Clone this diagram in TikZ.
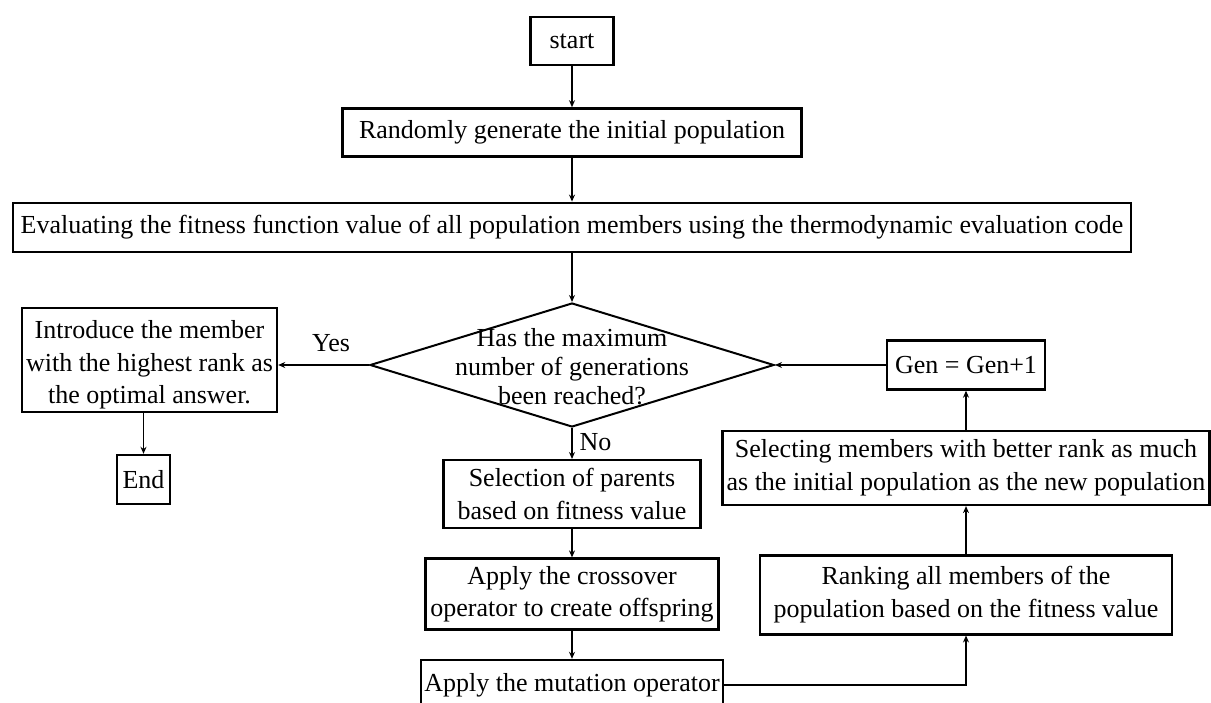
\documentclass[tikz,border=0pt]{standalone}
\usepackage{fontspec}
\setmainfont{Liberation Serif}
\usetikzlibrary{arrows.meta, positioning, shapes.geometric}

\begin{document}
\begin{tikzpicture}[x=1pt, y=1pt,
            box/.style={rectangle, draw, line width=2.4pt, align=center, inner sep=1pt, font=\fontsize{26}{32.5}\selectfont},
            decision/.style={diamond, draw, line width=2pt, minimum width=404pt, minimum height=124pt, inner sep=0pt, font=\fontsize{26}{29}\selectfont},
            flow/.style={draw, line width=1.5pt, -{Stealth[length=7pt, width=6pt]}},
            tag/.style={font=\fontsize{26}{30}\selectfont}
        ]
            \useasboundingbox (0,0) rectangle (1211,-703);
            \node[box, minimum width=83pt, minimum height=48pt] (start) at (572,-41) {start};
            \node[box, minimum width=459pt, minimum height=48pt, below=41pt of start] (init) {Randomly generate the initial population};
            \node[box, minimum width=1118pt, minimum height=49pt, below=44pt of init] (eval) {Evaluating the fitness function value of all population members using the thermodynamic evaluation code};
            \node[decision, below=49pt of eval] (decide) {\makebox[0pt]{\smash{\raisebox{-11pt}{\begin{tabular}{@{}c@{}}Has the maximum\\number of generations\\been reached?\end{tabular}}}}};
            \node[box, minimum width=255pt, minimum height=104pt] (intro) at (149.5,-360) {\raisebox{-5pt}[\height][\depth]{\begin{tabular}{@{}c@{}}Introduce the member\\with the highest rank as\\the optimal answer.\end{tabular}}};
            \node[box, minimum width=53pt, minimum height=49pt] (finish) at (143.5,-479.5) {End};
            \node[box, minimum width=257pt, minimum height=68pt, below=31pt of decide] (parents) {Selection of parents\\based on fitness value};
            \node[box, minimum width=293pt, minimum height=71pt, below=28pt of parents] (cross) {Apply the crossover\\operator to create offspring};
            \node[box, minimum width=302pt, minimum height=50pt, below=28pt of cross] (mutate) {Apply the mutation operator};
            \node[box, minimum width=158pt, minimum height=49pt] (gen) at (966,0 |- decide.east) {Gen = Gen+1};
            \node[box, minimum width=487pt, minimum height=74pt, below=39pt of gen] (select) {Selecting members with better rank as much\\as the initial population as the new population};
            \node[box, minimum width=412pt, minimum height=79pt, below=48pt of select] (rank) {Ranking all members of the\\population based on the fitness value};
            \node[tag] (yes) at (331,-343) {Yes};
            \node[tag, anchor=west] (no) at (576,-442) {No};

            \draw[flow] (start) -- (init);
            \draw[flow] (init) -- (eval);
            \draw[flow] (eval) -- (decide);
            \draw[flow] (decide.west) -- (decide.west -| intro.east);
            \draw[flow] (intro.south -| finish) -- (finish);
            \draw[flow] (decide) -- (parents);
            \draw[flow] (parents) -- (cross);
            \draw[flow] (cross) -- (mutate);
            \draw[flow] (mutate.east) -| (rank.south);
            \draw[flow] (rank) -- (select);
            \draw[flow] (select) -- (gen);
            \draw[flow] (gen) -- (decide.east);
        \end{tikzpicture}
\end{document}
